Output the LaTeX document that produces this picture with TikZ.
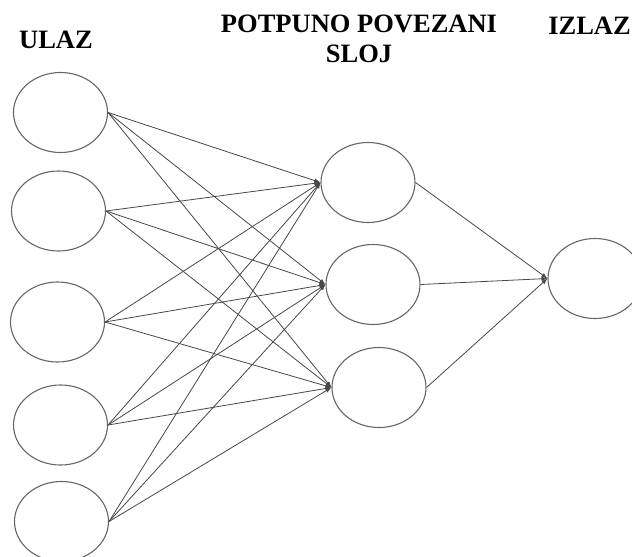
\documentclass[tikz,border=0pt]{standalone}
\usepackage{fontspec}
\setmainfont{Liberation Serif}
\usetikzlibrary{shapes.geometric,arrows.meta}
\begin{document}
\begin{tikzpicture}[x=1pt,y=-1pt,
  neuron/.style={ellipse,draw=black!60,line width=1.1pt,minimum width=94pt,minimum height=80pt,inner sep=0pt},
  link/.style={draw=black!72,line width=0.8pt,-{Latex[length=6pt,width=4.5pt]}},
  title/.style={font=\bfseries\fontsize{26.5}{30}\selectfont,inner sep=0pt}]
\useasboundingbox (0,0) rectangle (632,557);
\clip (0,0) rectangle (632,557);

% layer titles
\node[title,anchor=base] (tin) at (56,48) {ULAZ};
\node[title,anchor=base,align=center] (thid) at (359,62) {POTPUNO POVEZANI\\SLOJ};
\node[title,anchor=base east] (tout) at (631,34) {IZLAZ};

% input layer
\node[neuron] (i1) at (60.5,112.5) {};
\node[neuron] (i2) at (58.5,211) {};
\node[neuron] (i3) at (57.5,322) {};
\node[neuron] (i4) at (60.5,425) {};
\node[neuron] (i5) at (61.5,521.5) {};

% fully connected layer
\node[neuron] (h1) at (368,182.5) {};
\node[neuron] (h2) at (373,284.5) {};
\node[neuron] (h3) at (379,387.5) {};

% output layer
\node[neuron] (o) at (595,278.5) {};

% input -> hidden connections
\foreach \i in {1,...,5}
  \foreach \h in {1,2,3}
    \draw[link] (i\i.east) -- (h\h.west);

% hidden -> output connections
\foreach \h in {1,2,3}
  \draw[link] (h\h.east) -- (o.west);
\end{tikzpicture}
\end{document}
